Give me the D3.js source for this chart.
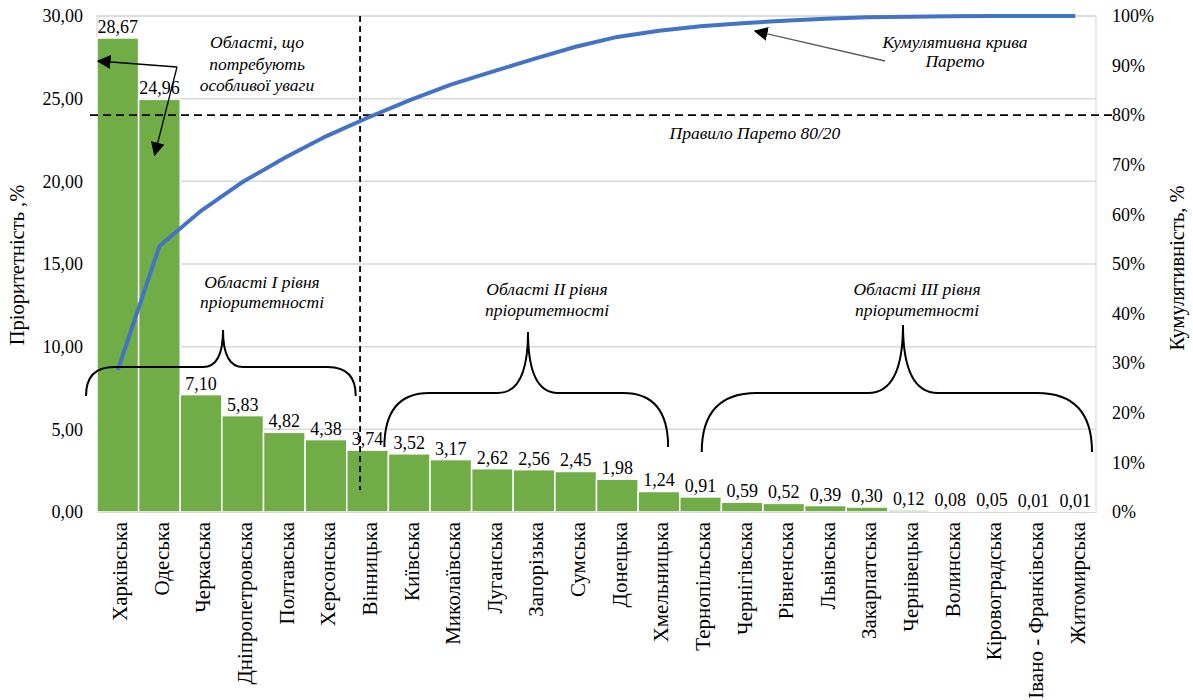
<!DOCTYPE html>
<html><head><meta charset="utf-8">
<script src="https://cdn.jsdelivr.net/npm/d3@7"></script>
<style>body{margin:0;background:#fff;}</style>
</head><body>
<svg id="c" width="1193" height="700"></svg>
<script>
const categories = ["Харківська","Одеська","Черкаська","Дніпропетровська","Полтавська","Херсонська","Вінницька","Київська","Миколаївська","Луганська","Запорізька","Сумська","Донецька","Хмельницька","Тернопільська","Чернігівська","Рівненська","Львівська","Закарпатська","Чернівецька","Волинська","Кіровоградська","Івано - Франківська","Житомирська"];
const values = [28.67,24.96,7.10,5.83,4.82,4.38,3.74,3.52,3.17,2.62,2.56,2.45,1.98,1.24,0.91,0.59,0.52,0.39,0.30,0.12,0.08,0.05,0.01,0.01];
const leftTicks = [0,5,10,15,20,25,30];
const rightTicks = [0,0.1,0.2,0.3,0.4,0.5,0.6,0.7,0.8,0.9,1.0];
const paretoRule = 0.8;

const FONT = '"Liberation Serif"';
const total = d3.sum(values);
const cumulative = Array.from(d3.cumsum(values), v => Math.min(1, v / total));

const svg = d3.select("#c");
const L = 97, R = 1096, T = 16, B = 512;
const x = d3.scaleBand().domain(categories).range([L, R]).padding(0);
const y = d3.scaleLinear().domain([0, 30]).range([B, T]);
const y2 = d3.scaleLinear().domain([0, 1]).range([B, T]);
const comma = v => d3.format(".2f")(v).replace(".", ",");

// gridlines
svg.append("g").selectAll("line").data(leftTicks).join("line")
  .attr("x1", L).attr("x2", R).attr("y1", d => y(d)).attr("y2", d => y(d))
  .attr("stroke", "#d9d9d9").attr("stroke-width", 1.5);
// plot border
svg.append("rect").attr("x", L).attr("y", T).attr("width", R - L).attr("height", B - T)
  .attr("fill", "none").attr("stroke", "#d9d9d9").attr("stroke-width", 1.2);

// bars
svg.append("g").selectAll("rect").data(values).join("rect")
  .attr("x", (d, i) => x(categories[i])).attr("width", x.bandwidth())
  .attr("y", d => y(d)).attr("height", d => B - y(d))
  .attr("fill", "#70ad47").attr("stroke", "#fff").attr("stroke-width", 1.5);

// axes
const ay = svg.append("g").attr("transform", `translate(${L - 6},0)`)
  .call(d3.axisLeft(y).tickValues(leftTicks).tickFormat(comma).tickSize(0).tickPadding(8));
ay.select(".domain").remove();
ay.selectAll("text").attr("font-size", 18).attr("fill", "#000").style("font-family", FONT);

const ay2 = svg.append("g").attr("transform", `translate(${R + 8},0)`)
  .call(d3.axisRight(y2).tickValues(rightTicks).tickFormat(d3.format(".0%")).tickSize(0).tickPadding(8));
ay2.select(".domain").remove();
ay2.selectAll("text").attr("font-size", 18).attr("fill", "#000").style("font-family", FONT);

const ax = svg.append("g").attr("transform", `translate(0,${B})`)
  .call(d3.axisBottom(x).tickSize(0).tickPadding(0));
ax.select(".domain").attr("stroke", "#d9d9d9");
ax.selectAll("text").attr("font-size", 21).attr("fill", "#000").style("font-family", FONT)
  .attr("text-anchor", "end").attr("transform", "translate(2,10) rotate(-90)").attr("x", 0).attr("y", 0).attr("dy", "0.35em");

// axis titles
svg.append("text").attr("transform", `translate(24,${(T + B) / 2 + 1}) rotate(-90)`).style("font-family", FONT)
  .attr("text-anchor", "middle").attr("font-size", 20.5).text("Пріоритетність ,%");
svg.append("text").attr("transform", `translate(1184,${(T + B) / 2 + 4}) rotate(-90)`).style("font-family", FONT)
  .attr("text-anchor", "middle").attr("font-size", 20.5).text("Кумулятивність, %");

// 80% line and vertical split
svg.append("line").attr("x1", L - 7).attr("x2", R + 20).attr("y1", y2(paretoRule)).attr("y2", y2(paretoRule))
  .attr("stroke", "#000").attr("stroke-width", 1.8).attr("stroke-dasharray", "8,5");
const vx = x("Вінницька") + x.bandwidth() * 0.32;
svg.append("line").attr("x1", vx).attr("x2", vx).attr("y1", T).attr("y2", B - 22)
  .attr("stroke", "#000").attr("stroke-width", 1.8).attr("stroke-dasharray", "6,4");

// cumulative line
svg.append("path").datum(cumulative)
  .attr("d", d3.line().x((d, i) => x(categories[i]) + x.bandwidth() / 2).y(d => y2(d)))
  .attr("fill", "none").attr("stroke", "#4472c4").attr("stroke-width", 4);

// data labels
svg.append("g").selectAll("text").data(values).join("text")
  .attr("x", (d, i) => x(categories[i]) + x.bandwidth() / 2).attr("y", d => y(d) - 5)
  .attr("text-anchor", "middle").attr("font-size", 18).style("font-family", FONT).text(d => comma(d));

// markers
const defs = svg.append("defs");
defs.append("marker").attr("id", "ah").attr("viewBox", "0 0 10 10").attr("refX", 9).attr("refY", 5)
  .attr("markerWidth", 14).attr("markerHeight", 14).attr("markerUnits", "userSpaceOnUse").attr("orient", "auto")
  .append("path").attr("d", "M0,0 L10,5 L0,10 Z").attr("fill", "#000");

// arrows from "Області, що..."
const ax0 = 177, ay0 = 67;
svg.append("path").attr("d", `M${ax0},${ay0} L${L + 1},${ay0 - 6}`).attr("stroke", "#000").attr("stroke-width", 1.3).attr("fill", "none").attr("marker-end", "url(#ah)");
svg.append("path").attr("d", `M${ax0},${ay0} L${x("Одеська") + 16},${155}`).attr("stroke", "#000").attr("stroke-width", 1.3).attr("fill", "none").attr("marker-end", "url(#ah)");
// arrow to curve
svg.append("path").attr("d", `M885,61 L${755},${31}`).attr("stroke", "#595959").attr("stroke-width", 1.3).attr("fill", "none").attr("marker-end", "url(#ah)");

// italic annotation texts
function note(cx, ys, lines) {
  const t = svg.append("text").attr("text-anchor", "middle").attr("font-style", "italic")
    .attr("font-size", 17.5).style("font-family", FONT).style("font-style", "italic");
  lines.forEach((s, i) => t.append("tspan").attr("x", cx).attr("y", ys[i]).text(s));
}
note(257, [48, 70, 91], ["Області, що", "потребують", "особливої уваги"]);
note(955, [48, 67], ["Кумулятивна крива", "Парето"]);
note(755, [139], ["Правило Парето 80/20"]);
note(262, [288, 308], ["Області І рівня", "пріоритетності"]);
note(547, [295, 316], ["Області ІІ рівня", "пріоритетності"]);
note(917, [295, 316], ["Області ІІІ рівня", "пріоритетності"]);

// braces
function brace(x1, x2, xm, yEnd, yH, yTop, r, r2) {
  return `M${x1},${yEnd} Q${x1},${yH} ${x1 + r},${yH} L${xm - r2},${yH} Q${xm},${yH} ${xm},${yTop} ` +
         `Q${xm},${yH} ${xm + r2},${yH} L${x2 - r},${yH} Q${x2},${yH} ${x2},${yEnd}`;
}
[
  [L - 11, x("Вінницька") + 9, 223, 396, 367, 330, 28, 20],
  [x("Київська") - 4, x("Хмельницька") + 30, 528, 447, 393, 332, 45, 30],
  [x("Тернопільська") + 22, R - 4, 903, 452, 393, 325, 55, 35]
].forEach(b => {
  svg.append("path").attr("d", brace(...b)).attr("fill", "none").attr("stroke", "#000").attr("stroke-width", 2);
});
</script>
</body></html>
